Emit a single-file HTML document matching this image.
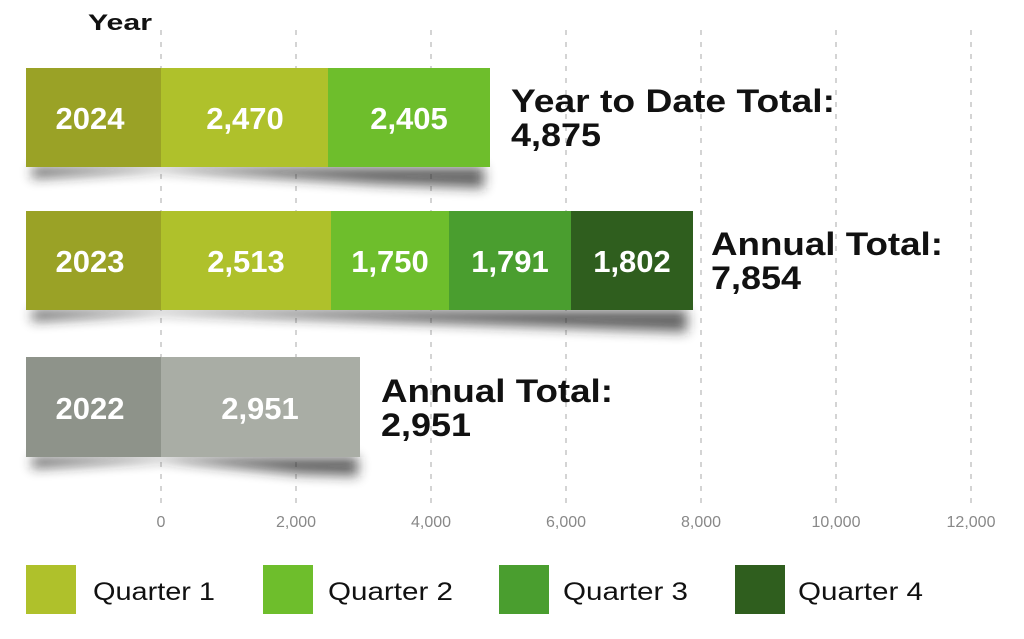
<!DOCTYPE html>
<html><head><meta charset="utf-8"><style>
html,body{margin:0;padding:0;background:#fff;}
svg{display:block;font-family:"Liberation Sans","DejaVu Sans",sans-serif;}
</style></head><body>
<svg width="1024" height="639" viewBox="0 0 1024 639" xmlns="http://www.w3.org/2000/svg">
<defs><filter id="b" x="-10%" y="-100%" width="120%" height="300%"><feGaussianBlur stdDeviation="6"/></filter></defs>
<g stroke="#aaa" stroke-width="1" stroke-dasharray="5,7">
<line x1="161" y1="30" x2="161" y2="505"/><line x1="296" y1="30" x2="296" y2="505"/>
<line x1="431" y1="30" x2="431" y2="505"/><line x1="566" y1="30" x2="566" y2="505"/>
<line x1="701" y1="30" x2="701" y2="505"/><line x1="836" y1="30" x2="836" y2="505"/>
<line x1="971" y1="30" x2="971" y2="505"/>
</g>
<text x="88" y="30" font-size="22" font-weight="bold" fill="#111" textLength="64" lengthAdjust="spacingAndGlyphs">Year</text>
<g fill="#222" filter="url(#b)" opacity="0.7">
<polygon points="32,167 484,167 484,188 380,184 161,170 32,178"/>
<polygon points="32,310 687,310 687,332 520,326 161,313 32,321"/>
<polygon points="32,457 358,457 358,476 300,474 161,460 32,468"/>
</g>
<rect x="26" y="68" width="135" height="99" fill="#9aa226"/>
<rect x="161" y="68" width="167" height="99" fill="#afc12b"/>
<rect x="328" y="68" width="162" height="99" fill="#6ebe2c"/>
<rect x="26" y="211" width="135" height="99" fill="#9aa226"/>
<rect x="161" y="211" width="170" height="99" fill="#afc12b"/>
<rect x="331" y="211" width="118" height="99" fill="#6ebe2c"/>
<rect x="449" y="211" width="122" height="99" fill="#4a9e2f"/>
<rect x="571" y="211" width="122" height="99" fill="#2f5e1e"/>
<rect x="26" y="357" width="135" height="100" fill="#8e938a"/>
<rect x="161" y="357" width="199" height="100" fill="#a9ada5"/>
<g fill="#fff" font-size="31" font-weight="bold" text-anchor="middle">
<text x="90" y="129">2024</text><text x="245" y="129">2,470</text><text x="409" y="129">2,405</text>
<text x="90" y="272">2023</text><text x="246" y="272">2,513</text><text x="390" y="272">1,750</text>
<text x="510" y="272">1,791</text><text x="632" y="272">1,802</text>
<text x="90" y="419">2022</text><text x="260" y="419">2,951</text>
</g>
<g fill="#111" font-size="32" font-weight="bold" lengthAdjust="spacingAndGlyphs">
<text x="511" y="112" textLength="324" lengthAdjust="spacingAndGlyphs">Year to Date Total:</text><text x="511" y="146" textLength="90" lengthAdjust="spacingAndGlyphs">4,875</text>
<text x="711" y="255" textLength="232" lengthAdjust="spacingAndGlyphs">Annual Total:</text><text x="711" y="289" textLength="90" lengthAdjust="spacingAndGlyphs">7,854</text>
<text x="381" y="402" textLength="232" lengthAdjust="spacingAndGlyphs">Annual Total:</text><text x="381" y="436" textLength="90" lengthAdjust="spacingAndGlyphs">2,951</text>
</g>
<g fill="#888" font-size="16" text-anchor="middle">
<text x="161" y="527">0</text><text x="296" y="527">2,000</text><text x="431" y="527">4,000</text>
<text x="566" y="527">6,000</text><text x="701" y="527">8,000</text><text x="836" y="527">10,000</text>
<text x="971" y="527">12,000</text>
</g>
<rect x="26" y="565" width="50" height="49" fill="#afc12b"/>
<rect x="263" y="565" width="50" height="49" fill="#6ebe2c"/>
<rect x="499" y="565" width="50" height="49" fill="#4a9e2f"/>
<rect x="735" y="565" width="50" height="49" fill="#2f5e1e"/>
<g fill="#111" font-size="25">
<text x="93" y="600" textLength="122" lengthAdjust="spacingAndGlyphs">Quarter 1</text><text x="328" y="600" textLength="125" lengthAdjust="spacingAndGlyphs">Quarter 2</text>
<text x="563" y="600" textLength="125" lengthAdjust="spacingAndGlyphs">Quarter 3</text><text x="798" y="600" textLength="125" lengthAdjust="spacingAndGlyphs">Quarter 4</text>
</g>
</svg>
</body></html>
